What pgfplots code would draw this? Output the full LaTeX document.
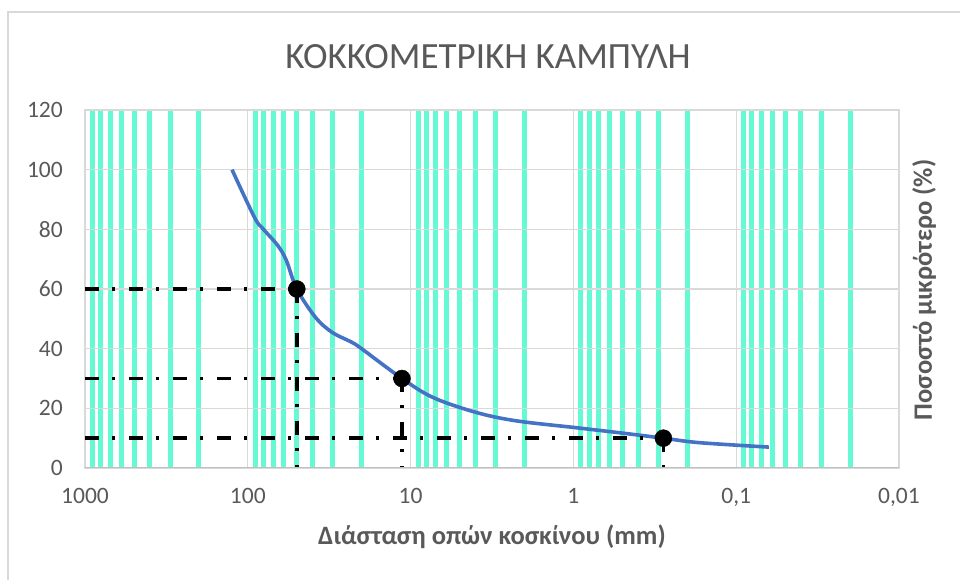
\documentclass[border=0pt]{standalone}
\usepackage{fontspec}
\setmainfont{Carlito}
\usepackage{pgfplots}
\pgfplotsset{compat=1.18}
\definecolor{teal1}{RGB}{102,250,212}
\definecolor{gridgray}{RGB}{217,217,217}
\definecolor{axgray}{RGB}{191,191,191}
\definecolor{txtgray}{RGB}{89,89,89}
\definecolor{curveblue}{RGB}{68,114,196}
\begin{document}
\begin{tikzpicture}[x=1pt,y=1pt]
\path[use as bounding box] (0,0) rectangle (960,580);
\draw[gridgray, line width=1.3pt] (8,0) -- (8,568) -- (960,568);
\begin{axis}[
  at={(85pt,112pt)}, anchor=south west,
  scale only axis, width=814pt, height=358pt,
  xmode=log, x dir=reverse,
  xmin=0.01, xmax=1000, ymin=0, ymax=120,
  xtick={1000,100,10,1,0.1,0.01},
  xticklabels={1000,100,10,1,{0,1},{0,01}},
  ytick={0,20,40,60,80,100,120},
  yticklabels={0,20,40,60,80,100,120},
  minor xtick={900,800,700,600,500,400,300,200,90,80,70,60,50,40,30,20,9,8,7,6,5,4,3,2,0.9,0.8,0.7,0.6,0.5,0.4,0.3,0.2,0.09,0.08,0.07,0.06,0.05,0.04,0.03,0.02},
  minor ytick={},
  xminorgrids=true, xmajorgrids=true, ymajorgrids=true,
  minor x grid style={color=teal1, line width=5pt},
  major grid style={color=gridgray, line width=1.3pt},
  axis line style={color=gridgray, line width=1.3pt},
  major tick length=0pt, minor tick length=0pt,
  tick label style={font=\fontsize{23.5}{28}\selectfont, text=txtgray},
  yticklabel style={inner sep=0pt, xshift=-22pt},
  xticklabel style={inner sep=0pt, yshift=-20pt},
]
\addplot[curveblue, line width=3.6pt, smooth, tension=0.55] coordinates {
 (125,100) (91,84) (81,80.3) (65.5,74.6) (58,69.6) (50,60) (38.4,50.5) (30.4,45.5)
 (22.9,42.1) (19.9,39.9) (11.3,30) (7.26,23.6) (3.94,18.6) (2.24,15.8) (0.96,13.5)
 (0.5,11.7) (0.28,10) (0.169,8.5) (0.063,7)
};
\addplot[black, line width=3.6pt, dash pattern=on 14pt off 13pt on 3pt off 14pt] coordinates {(1000,60) (50,60)};
\addplot[black, line width=3.6pt, dash pattern=on 14pt off 13pt on 3pt off 14pt] coordinates {(1000,30) (11.3,30)};
\addplot[black, line width=3.6pt, dash pattern=on 14pt off 13pt on 3pt off 14pt] coordinates {(1000,10) (0.28,10)};
\addplot[black, line width=3.6pt, dash pattern=on 14pt off 13pt on 3pt off 14pt] coordinates {(50,60) (50,0)};
\addplot[black, line width=3.6pt, dash pattern=on 14pt off 13pt on 3pt off 14pt] coordinates {(11.3,30) (11.3,0)};
\addplot[black, line width=3.6pt, dash pattern=on 14pt off 13pt on 3pt off 14pt] coordinates {(0.28,10) (0.28,0)};
\addplot[only marks, mark=*, mark size=8.5pt, black] coordinates {(50,60) (11.3,30) (0.28,10)};
\draw[axgray, line width=1.3pt] (rel axis cs:0,0) -- (rel axis cs:1,0);
\end{axis}
\node[text=txtgray, font=\fontsize{37}{44}\selectfont] at (488,523) {ΚΟΚΚΟΜΕΤΡΙΚΗ ΚΑΜΠΥΛΗ};
\node[text=txtgray, font=\fontsize{26.5}{32}\selectfont\bfseries] at (492,43) {Διάσταση οπών κοσκίνου (mm)};
\node[text=txtgray, font=\fontsize{26.5}{32}\selectfont\bfseries, rotate=90] at (924,290) {Ποσοστό μικρότερο (\%)};
\end{tikzpicture}
\end{document}
